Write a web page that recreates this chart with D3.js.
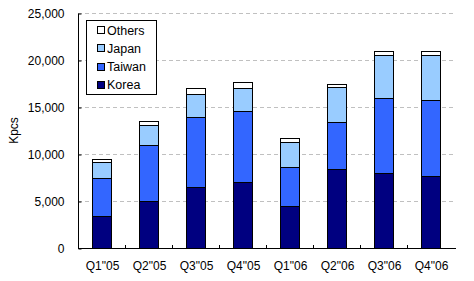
<!DOCTYPE html>
<html><head><meta charset="utf-8">
<script src="https://cdn.jsdelivr.net/npm/d3@7"></script>
<style>body{margin:0;background:#fff}svg{display:block}text{font-family:"Liberation Sans",Arial,sans-serif}</style>
</head><body><svg id="c" width="474" height="281"></svg>
<script>
const categories = ["Q1\"05","Q2\"05","Q3\"05","Q4\"05","Q1\"06","Q2\"06","Q3\"06","Q4\"06"];
const korea  = [3400, 5000, 6450, 7000, 4450, 8400, 7950, 7650];
const taiwan = [4100, 6000, 7450, 7550, 4150, 5000, 8000, 8050];
const japan  = [1600, 2050, 2450, 2450, 2650, 3700, 4550, 4800];
const others = [350, 500, 650, 650, 420, 330, 420, 420];
const seriesNames = ["Korea","Taiwan","Japan","Others"];
const yTicks = [0, 5000, 10000, 15000, 20000, 25000];
const colors = {Korea:"#000080", Taiwan:"#3366FF", Japan:"#99CCFF", Others:"#FFFFFF"};

const rows = categories.map((c,i)=>({cat:c, Korea:korea[i], Taiwan:taiwan[i], Japan:japan[i], Others:others[i]}));
const stack = d3.stack().keys(seriesNames)(rows);

const svg = d3.select("#c");
const L=78, R=454, T=13, B=248;
const x = d3.scaleBand().domain(categories).range([L,R]).paddingInner(0.6).paddingOuter(0.3);
const xb = d3.scaleBand().domain(categories).range([L,R]);
const y = d3.scaleLinear().domain([0,25000]).range([B,T]);

// grid
svg.append("g").selectAll("line").data(yTicks.slice(1)).join("line")
  .attr("x1",L).attr("x2",R+2).attr("y1",d=>y(d)+0.5).attr("y2",d=>y(d)+0.5)
  .attr("stroke","#c0c0c0").attr("stroke-dasharray","4,3");

// bars
svg.append("g").selectAll("g").data(stack).join("g")
  .attr("fill",d=>colors[d.key])
  .selectAll("rect").data(d=>d).join("rect")
  .attr("x",d=>Math.round(x(d.data.cat))+0.5)
  .attr("width",Math.round(x.bandwidth()))
  .attr("y",d=>Math.round(y(d[1]))+0.5)
  .attr("height",d=>Math.round(y(d[0]))-Math.round(y(d[1])))
  .attr("stroke","#000").attr("stroke-width",1);

// y axis
const ya = d3.axisLeft(y).tickValues(yTicks).tickSize(-3).tickPadding(14).tickFormat(d3.format(","));
const gy = svg.append("g").attr("transform",`translate(${L+0.5},0.5)`).call(ya);
gy.select(".domain").attr("d",`M0,${T}V${B}`).attr("stroke","#000");
gy.selectAll("text").attr("font-size",12).attr("fill","#000").attr("font-family","'Liberation Sans',Arial,sans-serif");

// x axis
svg.append("line").attr("x1",L).attr("x2",R+2).attr("y1",B+0.5).attr("y2",B+0.5).attr("stroke","#000");
svg.append("g").selectAll("line").data(categories.slice(1)).join("line")
  .attr("x1",d=>Math.round(xb(d))+0.5).attr("x2",d=>Math.round(xb(d))+0.5)
  .attr("y1",B).attr("y2",B-3).attr("stroke","#000");
svg.append("g").selectAll("text").data(categories).join("text")
  .attr("x",d=>xb(d)+xb.bandwidth()/2+1).attr("y",B+22)
  .attr("text-anchor","middle").attr("font-size",12).text(d=>d);

// y title
svg.append("text").attr("transform",`translate(18,${(T+B)/2}) rotate(-90)`)
  .attr("text-anchor","middle").attr("font-size",12).text("Kpcs");

// legend
const lg = svg.append("g");
lg.append("rect").attr("x",86.5).attr("y",20.5).attr("width",70).attr("height",74)
  .attr("fill","#fff").attr("stroke","#000");
const legItems = seriesNames.slice().reverse();
legItems.forEach((k,i)=>{
  const cy = 30 + i*18.3;
  lg.append("rect").attr("x",97.5).attr("y",Math.round(cy-4)+0.5).attr("width",7).attr("height",7)
    .attr("fill",colors[k]).attr("stroke","#000");
  lg.append("text").attr("x",107).attr("y",cy+4.5).attr("font-size",12.5).text(k);
});
</script></body></html>
